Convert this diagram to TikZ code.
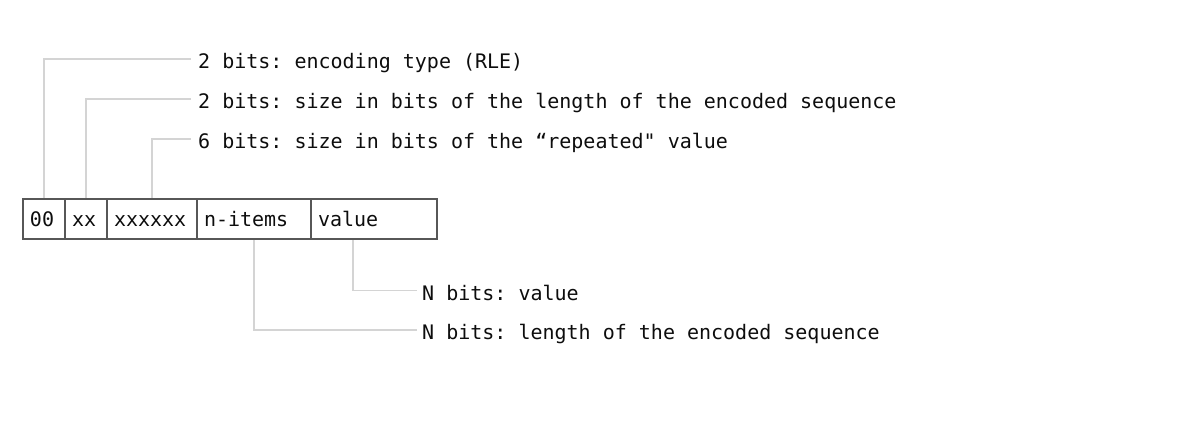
\documentclass[tikz,border=0pt]{standalone}
\usepackage{fontspec}
\newfontfamily\codefont{DejaVu Sans Mono}
\usetikzlibrary{positioning,calc}
\definecolor{BoxClr}{rgb}{0.34,0.34,0.34}
\definecolor{LinkClr}{rgb}{0.83,0.83,0.83}
\definecolor{TextClr}{rgb}{0.05,0.05,0.05}
\frenchspacing

\begin{document}
\begin{tikzpicture}[x=1pt,y=-1pt,
  font=\codefont\fontsize{20}{24}\selectfont,text=TextClr,
  cell/.style={draw=BoxClr,line width=2pt,outer sep=0pt,minimum height=40pt,
    inner xsep=7pt,inner ysep=0pt,text height=14.6pt,text depth=0pt,align=left},
  lbl/.style={anchor=west,inner sep=0pt,text height=19pt,text depth=0pt},
  link/.style={draw=LinkClr,line width=1.6pt,shorten <=1pt}]
\useasboundingbox (0,0) rectangle (1184,436);

% the header fields
\node[cell,text width=28pt,anchor=west] (c00) at (23,219) {00};
\node[cell,text width=28pt,right=0pt of c00] (cxx) {xx};
\node[cell,text width=76pt,right=0pt of cxx] (cx6) {xxxxxx};
\node[cell,text width=100pt,right=0pt of cx6] (cnum) {n-items};
\node[cell,text width=112pt,right=0pt of cnum] (cval) {value};

% notes
\node[lbl] (l1) at (198,59) {2 bits: encoding type (RLE)};
\node[lbl] (l2) at (198,99) {2 bits: size in bits of the length of the encoded sequence};
\node[lbl] (l3) at (198,139) {6 bits: size in bits of the “repeated" value};
\node[lbl] (l4) at (422,290.5) {N bits: value};
\node[lbl] (l5) at (422,330) {N bits: length of the encoded sequence};

\draw[link] (c00.north) |- ([xshift=-7pt]l1.west);
\draw[link] (cxx.north) |- ([xshift=-7pt]l2.west);
\draw[link] (cx6.north) |- ([xshift=-7pt]l3.west);
\draw[link] ([xshift=-21pt]cval.south) |- ([xshift=-5pt]l4.west);
\draw[link] (cnum.south) |- ([xshift=-5pt]l5.west);

\end{tikzpicture}
\end{document}
